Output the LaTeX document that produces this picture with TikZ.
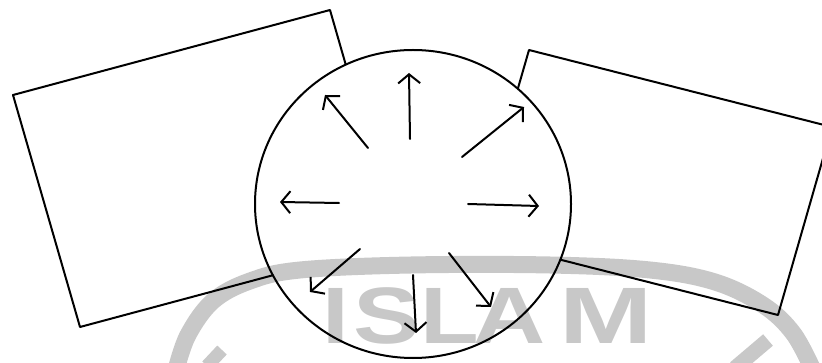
\documentclass[tikz,border=0pt]{standalone}
\usepackage{fontspec}
\usepackage{graphicx}
\setmainfont{Liberation Sans}
\usetikzlibrary{arrows.meta}
\definecolor{wm}{RGB}{200,200,200}
\begin{document}
\begin{tikzpicture}[x=1pt,y=-1pt,
  ink/.style={line width=2pt, line cap=round, line join=round},
  ray/.style={ink, -{Straight Barb[length=9pt,width=22pt]}},
  wmband/.style={wm, line width=17pt},
  wmletter/.style={text=wm, inner sep=0pt, anchor=base, font=\fontsize{80}{80}\selectfont\bfseries}]
\useasboundingbox (0,0) rectangle (822,363);
% watermark
\draw[wmband] plot[smooth, tension=0.6] coordinates {(176,370) (188,335) (213,301) (250,281) (300,270) (411,265) (550,265) (650,270) (715,282) (763,305) (793,333) (813,370)};
\draw[wm, line width=15pt] (768,340) -- (735,368);
\draw[wm, line width=13pt] (222,350) -- (207,366);
\node[wmletter] (wI) at (336,343) {\scalebox{1.2}[1]{I}};
\node[wmletter] (wS) at (387,343) {\scalebox{1.25}[1]{S}};
\node[wmletter] (wL) at (450,343) {\scalebox{1.2}[1]{L}};
\node[wmletter] (wA) at (510,343) {\scalebox{1.25}[1]{A}};
\node[wmletter] (wM) at (606,343) {\scalebox{1.4}[1]{M}};
% rectangles
\draw[ink] (345.7,64.5) -- (330,10) -- (13,95) -- (80,327) -- (272.7,275.3);
\draw[ink] (517.9,88.5) -- (529,50) -- (832,127) -- (778,315) -- (560.4,259.7);
% circle
\draw[ink] (413,204) ellipse [x radius=158pt, y radius=154pt];
% arrows
\coordinate (t1) at (410,139); \coordinate (h1) at (409,73);
\coordinate (t2) at (368,148); \coordinate (h2) at (325,95);
\coordinate (t3) at (462,157); \coordinate (h3) at (524,107);
\coordinate (t4) at (339,203); \coordinate (h4) at (280,202);
\coordinate (t5) at (468,204); \coordinate (h5) at (539,206);
\coordinate (t6) at (360,249); \coordinate (h6) at (310,292);
\coordinate (t7) at (413,275); \coordinate (h7) at (416,333);
\coordinate (t8) at (449,253); \coordinate (h8) at (491,307);
\foreach \i in {1,...,8} {\draw[ray] (t\i) -- (h\i);}
\end{tikzpicture}
\end{document}
